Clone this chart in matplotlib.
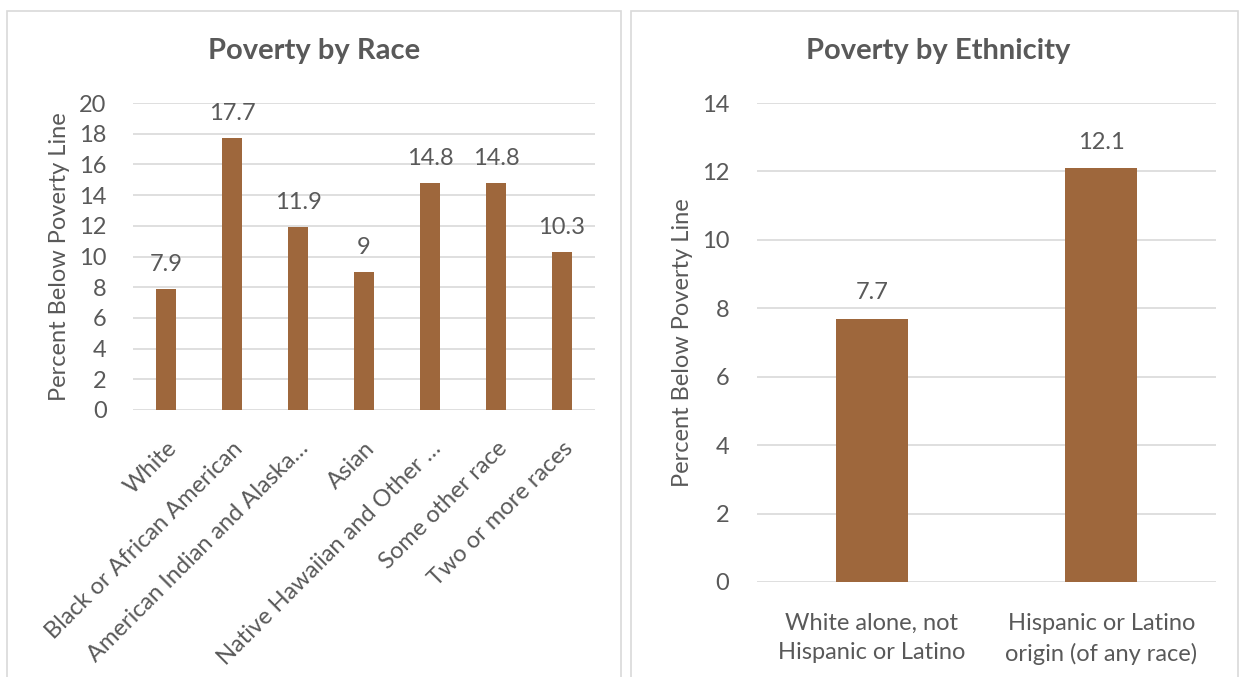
import matplotlib.pyplot as plt
from matplotlib.patches import Rectangle

# Data
race_labels = ['White', 'Black or African American', 'American Indian and Alaska…',
               'Asian', 'Native Hawaiian and Other …', 'Some other race', 'Two or more races']
race_values = [7.9, 17.7, 11.9, 9, 14.8, 14.8, 10.3]

eth_labels = ['White alone, not\nHispanic or Latino', 'Hispanic or Latino\norigin (of any race)']
eth_values = [7.7, 12.1]

BAR = '#9E673C'
TXT = '#595959'
GRID = '#D9D9D9'
W, H = 1244, 677
FS = 17

plt.rcParams['font.family'] = ['Lato', 'DejaVu Sans']

fig = plt.figure(figsize=(W / 100, H / 100), dpi=100)

def px_axes(x0, y0, x1, y1):
    return fig.add_axes([x0 / W, 1 - y1 / H, (x1 - x0) / W, (y1 - y0) / H])

# chart frames
for x0, x1 in [(7, 621), (631, 1238)]:
    fig.patches.append(Rectangle((x0 / W, -0.01), (x1 - x0) / W, 1 - 11 / H + 0.01,
                                 transform=fig.transFigure, fill=False,
                                 edgecolor=GRID, linewidth=1.2))

def style(ax, ymax):
    ax.set_ylim(0, ymax)
    ax.set_yticks(range(0, ymax + 1, 2))
    ax.grid(axis='y', color=GRID, linewidth=1.2)
    ax.set_axisbelow(True)
    for s in ax.spines.values():
        s.set_visible(False)
    ax.tick_params(axis='both', length=0, colors=TXT, labelsize=FS)
    ax.set_ylabel('Percent Below Poverty Line', color=TXT, fontsize=FS)

# Poverty by Race
ax1 = px_axes(133, 103, 595, 410)
ax1.bar(range(len(race_values)), race_values, width=0.30, color=BAR)
style(ax1, 20)
ax1.tick_params(axis='y', pad=19)
ax1.set_xlim(-0.5, len(race_values) - 0.5)
ax1.set_xticks(range(len(race_values)))
ax1.set_xticklabels(race_labels, rotation=45, ha='right', rotation_mode='anchor')
ax1.tick_params(axis='x', pad=20)
ax1.yaxis.set_label_coords(-0.136, 0.5)
for i, v in enumerate(race_values):
    ax1.annotate(f'{v:g}', (i, v), xytext=(0, 10), textcoords='offset points',
                 ha='center', va='bottom', color=TXT, fontsize=FS)
fig.text(314 / W, 1 - 51 / H, 'Poverty by Race', ha='center', va='center',
         fontsize=21, fontweight='bold', color=TXT)

# Poverty by Ethnicity
ax2 = px_axes(757, 103, 1216, 582)
ax2.bar(range(len(eth_values)), eth_values, width=0.314, color=BAR)
style(ax2, 14)
ax2.tick_params(axis='y', pad=20)
ax2.set_xlim(-0.5, len(eth_values) - 0.5)
ax2.set_xticks(range(len(eth_values)))
ax2.set_xticklabels(eth_labels, linespacing=1.5)
ax2.tick_params(axis='x', pad=22)
ax2.yaxis.set_label_coords(-0.14, 0.5)
for i, v in enumerate(eth_values):
    ax2.annotate(f'{v:g}', (i, v), xytext=(0, 11), textcoords='offset points',
                 ha='center', va='bottom', color=TXT, fontsize=FS)
fig.text(938 / W, 1 - 51 / H, 'Poverty by Ethnicity', ha='center', va='center',
         fontsize=21, fontweight='bold', color=TXT)

fig.savefig('out.png', dpi=100, facecolor='white')
